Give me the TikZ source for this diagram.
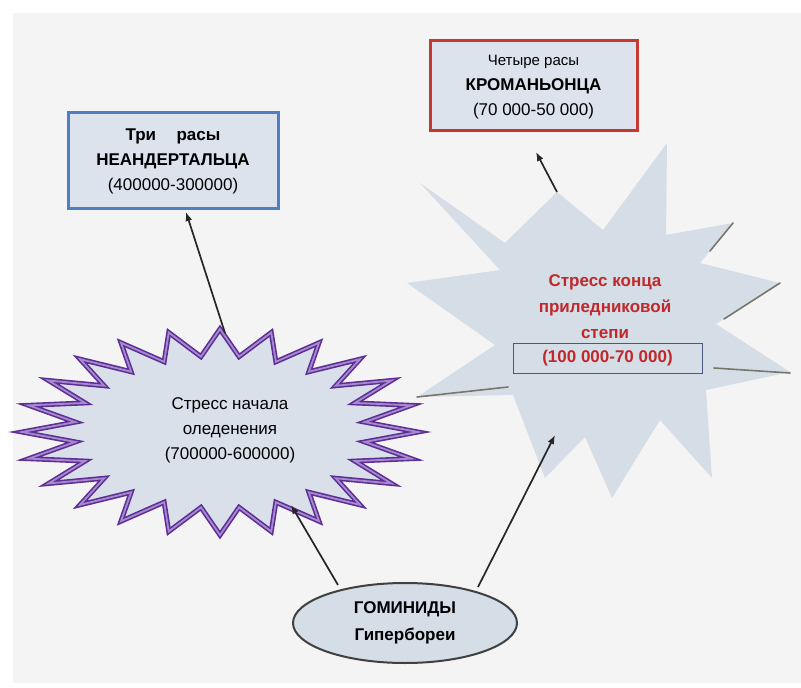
\documentclass[tikz,border=0pt]{standalone}
\usepackage{fontspec}
\setmainfont{Liberation Sans}
\usetikzlibrary{shapes.geometric,arrows.meta}
\definecolor{panel}{HTML}{F4F4F4}
\definecolor{boxfill}{HTML}{DCE3ED}
\definecolor{blueborder}{HTML}{4F7FC0}
\definecolor{redborder}{HTML}{C43A32}
\definecolor{starfill}{HTML}{D9E0EA}
\definecolor{pdark}{HTML}{5E2E96}
\definecolor{plight}{HTML}{A58ACF}
\definecolor{grayfill}{HTML}{D5DDE7}
\definecolor{shadowline}{HTML}{77776A}
\definecolor{redtext}{HTML}{C0282A}
\definecolor{datebox}{HTML}{4A5A7A}
\definecolor{ellstroke}{HTML}{404040}
\begin{document}
\begin{tikzpicture}[x=1pt,y=-1pt,
  box/.style={draw, line width=3pt, fill=boxfill, align=center, inner sep=0pt},
  conn/.style={draw=black!85, line width=1.7pt, -{Latex[length=9pt,width=7pt]}},
  txt/.style={align=center, inner sep=0pt, font=\fontsize{17}{25}\selectfont},
  shadow/.style={draw=shadowline, line width=1.6pt, line cap=round}]
\useasboundingbox (0,0) rectangle (801,688);
\fill[white] (0,0) rectangle (801,688);
\fill[panel] (13,13) rectangle (801,683);

% boxes
\node[box, draw=blueborder, minimum width=210pt, minimum height=96pt] (blue) at (173,160) {};
\node[txt] (bluetext) at (173,161) {\textbf{Три\hspace{1.2em}расы}\\ \textbf{НЕАНДЕРТАЛЬЦА}\\ (400000-300000)};
\node[box, draw=redborder, minimum width=207pt, minimum height=90pt] (red) at (533.5,85) {};
\node[txt] (redtext) at (533.5,87) {{\fontsize{15}{25}\selectfont Четыре расы}\\ \textbf{КРОМАНЬОНЦА}\\ (70 000-50 000)};

% purple star
\draw[fill=starfill, draw=pdark, line width=5pt, line join=miter,
      postaction={draw=plight, line width=1.8pt}]
  ({220+198},432)
  \foreach \i in {1,...,23}{
    -- ({220+146*cos(\i*15-7.5)},{432-76*sin(\i*15-7.5)})
    -- ({220+198*cos(\i*15)},{432-103*sin(\i*15)}) }
  -- ({220+146*cos(-7.5)},{432-76*sin(-7.5)}) -- cycle;
\node[txt] (purpletext) at (230,430) {Стресс начала\\ оледенения\\ (700000-600000)};

% gray star
\fill[grayfill] (420,183) -- (505,243) -- (557,192) -- (603,230) -- (667,143) -- (666,235)
  -- (733,223) -- (700,263) -- (780,283) -- (716,324) -- (790,372) -- (706,390)
  -- (712,478) -- (660,420) -- (612,498) -- (585,437) -- (545,478) -- (513,395)
  -- (417,397) -- (495,345) -- (407,283) -- (500,270) -- cycle;
\draw[shadow] (733,223) -- (710,251);
\draw[shadow] (780,283) -- (724,319);
\draw[shadow] (790,373) -- (714,368);
\draw[shadow] (417,397) -- (508,387);
\node[txt, text=redtext, font=\bfseries\fontsize{17}{26}\selectfont] (graytext) at (605,307) {Стресс конца\\ приледниковой\\ степи};
\node[draw=datebox, line width=1pt, minimum width=189pt, minimum height=30pt, inner sep=0pt,
      text=redtext, font=\bfseries\fontsize{17}{20}\selectfont] (date) at (607.5,358) {(100 000-70 000)};

% ellipse
\node[ellipse, draw=ellstroke, line width=2pt, fill=grayfill, minimum width=224pt, minimum height=80pt,
      inner sep=0pt, align=center, font=\bfseries\fontsize{17}{27}\selectfont] (hom) at (405,623) {ГОМИНИДЫ\\ Гипербореи};

% connector ends
\coordinate (hA) at (338,585);
\coordinate (hB) at (478,587);
\coordinate (pBot) at (291,505);
\coordinate (gBot) at (555,435);
\coordinate (pTop) at (225,333);
\coordinate (bBot) at (186,212);
\coordinate (gTop) at (557,192);
\coordinate (rBot) at (536,152);

\draw[conn] (hA) -- (pBot);
\draw[conn] (hB) -- (gBot);
\draw[conn] (pTop) -- (bBot);
\draw[conn] (gTop) -- (rBot);
\end{tikzpicture}
\end{document}
